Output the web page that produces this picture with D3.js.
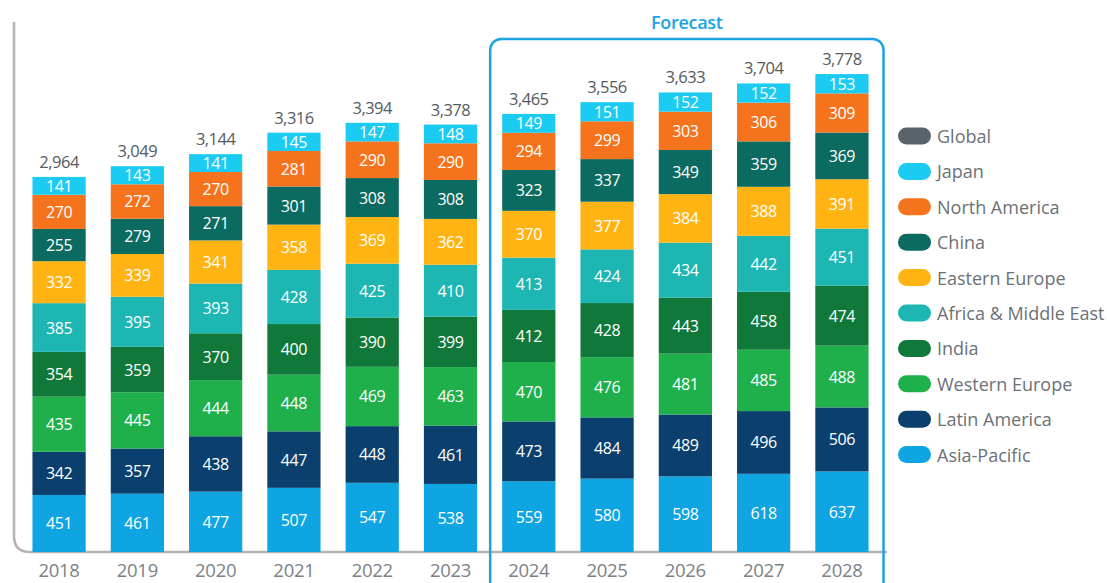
<!DOCTYPE html>
<html><head><meta charset="utf-8">
<script src="https://cdn.jsdelivr.net/npm/d3@7"></script>
<style>body{margin:0;background:#fff;}svg{display:block;font-family:"Open Sans",sans-serif;}</style>
</head><body><svg id="c" width="1107" height="583"></svg>
<script>
const years = ["2018","2019","2020","2021","2022","2023","2024","2025","2026","2027","2028"];
const forecastYears = ["2024","2025","2026","2027","2028"];
const totals = [2964,3049,3144,3316,3394,3378,3465,3556,3633,3704,3778];
const legendNames = ["Global","Japan","North America","China","Eastern Europe","Africa & Middle East","India","Western Europe","Latin America","Asia-Pacific"];
const colors = {"Global":"#59636b","Japan":"#1ccbf2","North America":"#f5731c","China":"#0c6b60","Eastern Europe":"#ffb414","Africa & Middle East":"#1db6b3","India":"#10793a","Western Europe":"#1fb04c","Latin America":"#0b3f6d","Asia-Pacific":"#0fa4e2"};
const japan = [141,143,141,145,147,148,149,151,152,152,153];
const northAmerica = [270,272,270,281,290,290,294,299,303,306,309];
const china = [255,279,271,301,308,308,323,337,349,359,369];
const easternEurope = [332,339,341,358,369,362,370,377,384,388,391];
const africaME = [385,395,393,428,425,410,413,424,434,442,451];
const india = [354,359,370,400,390,399,412,428,443,458,474];
const westernEurope = [435,445,444,448,469,463,470,476,481,485,488];
const latinAmerica = [342,357,438,447,448,461,473,484,489,496,506];
const asiaPacific = [451,461,477,507,547,538,559,580,598,618,637];

// stack order bottom -> top
const stackKeys = ["Asia-Pacific","Latin America","Western Europe","India","Africa & Middle East","Eastern Europe","China","North America","Japan"];
const seriesData = {"Asia-Pacific":asiaPacific,"Latin America":latinAmerica,"Western Europe":westernEurope,"India":india,"Africa & Middle East":africaME,"Eastern Europe":easternEurope,"China":china,"North America":northAmerica,"Japan":japan};
const table = years.map((y,i)=>{const o={year:y,total:totals[i]};stackKeys.forEach(k=>o[k]=seriesData[k][i]);return o;});

const svg = d3.select("#c");
const baseY = 552;
const x = d3.scaleBand().domain(years).range([21.5,879.5]).paddingInner(0.32).paddingOuter(0.14);
const y = d3.scaleLinear().domain([0,4000]).range([baseY, baseY-506]);

const stack = d3.stack().keys(stackKeys)(table);

// axis frame: left line with rounded corner into baseline
const r = 16;
svg.append("path")
  .attr("d", `M14,22 L14,${baseY-r} Q14,${baseY} ${14+r},${baseY} L887,${baseY}`)
  .attr("fill","none").attr("stroke","#b4b4b4").attr("stroke-width",2.5);

// bars
const g = svg.append("g");
stack.forEach(layer=>{
  const key = layer.key;
  layer.forEach((d,i)=>{
    const yr = years[i];
    g.append("rect").attr("x",x(yr)).attr("width",x.bandwidth())
      .attr("y",y(d[1])).attr("height",y(d[0])-y(d[1]))
      .attr("fill",colors[key]);
    g.append("text").attr("x",x(yr)+x.bandwidth()/2).attr("y",(y(d[0])+y(d[1]))/2)
      .attr("text-anchor","middle").attr("dominant-baseline","central")
      .attr("fill","#fff").attr("font-size",16).attr("letter-spacing",-0.4).text(d.data[key]);
  });
});

// totals
table.forEach((d,i)=>{
  const top = stack[stack.length-1][i][1];
  svg.append("text").attr("x",x(d.year)+x.bandwidth()/2).attr("y",y(top)-9)
    .attr("text-anchor","middle").attr("fill","#555b60").attr("font-size",16.5)
    .attr("letter-spacing",-0.5)
    .text(d3.format(",")(d.total));
});

// year labels
svg.append("g").selectAll("text").data(years).join("text")
  .attr("x",d=>x(d)+x.bandwidth()/2).attr("y",577)
  .attr("text-anchor","middle").attr("fill","#7c8185").attr("font-size",18.5)
  .attr("letter-spacing",-0.3)
  .text(d=>d);

// forecast box
const fx0 = x(forecastYears[0]) - 12, fx1 = x(forecastYears[forecastYears.length-1]) + x.bandwidth() + 15;
svg.append("rect").attr("x",fx0).attr("y",39).attr("width",fx1-fx0).attr("height",580)
  .attr("rx",11).attr("fill","none").attr("stroke","#1ba3e3").attr("stroke-width",2.5);
svg.append("text").attr("x",(fx0+fx1)/2).attr("y",29).attr("text-anchor","middle")
  .attr("fill","#1ba3e3").attr("font-size",18).attr("font-weight",600).attr("letter-spacing",-0.3).text("Forecast");

// legend
const lg = svg.append("g");
legendNames.forEach((n,i)=>{
  const cy = 136 + i*35.4;
  lg.append("rect").attr("x",898).attr("y",cy-8.5).attr("width",33).attr("height",17).attr("rx",8.5)
    .attr("fill",colors[n]);
  lg.append("text").attr("x",937).attr("y",cy).attr("dominant-baseline","central")
    .attr("fill","#6b7176").attr("font-size",18).text(n);
});
</script></body></html>
